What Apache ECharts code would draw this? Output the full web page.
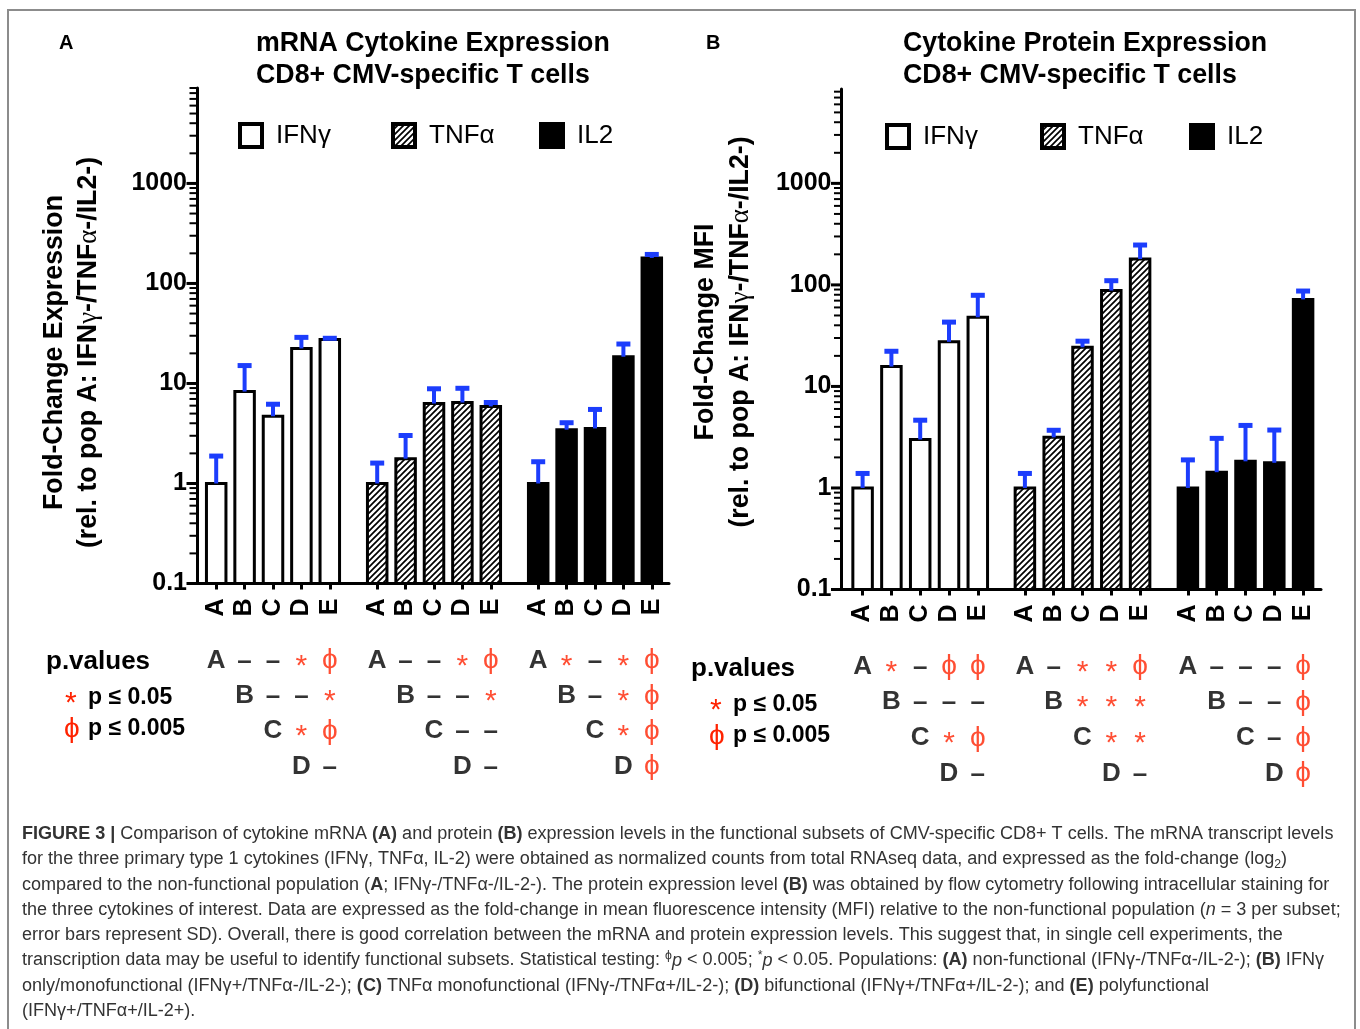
<!DOCTYPE html>
<html><head><meta charset="utf-8">
<script src="https://cdn.jsdelivr.net/npm/echarts@6/dist/echarts.min.js"></script>
<style>html,body{margin:0;padding:0;background:#fff}#c{width:1360px;height:1029px}</style>
</head><body><div id="c"></div>
<script>
// ---------------- DATA ----------------
const subsets = ['A', 'B', 'C', 'D', 'E'];
const cytokines = ['IFNγ', 'TNFα', 'IL2'];
const yTickLabels = ['0.1', '1', '10', '100', '1000'];
const tableRows = ['A', 'B', 'C', 'D'];

// Panel A: mRNA fold-change (mean) and SD
const mrnaIFNg   = [1.0, 8.3, 4.7, 22.4, 27.5];
const mrnaIFNgSD = [0.88, 6.8, 1.5, 6.5, 0.8];
const mrnaTNFa   = [1.0, 1.77, 6.3, 6.45, 5.9];
const mrnaTNFaSD = [0.6, 1.25, 2.55, 2.5, 0.55];
const mrnaIL2    = [1.0, 3.45, 3.55, 18.5, 180];
const mrnaIL2SD  = [0.65, 0.6, 1.95, 6.3, 15];

// Panel B: protein MFI fold-change (mean) and SD
const protIFNg   = [1.0, 15.7, 3.0, 27.5, 48];
const protIFNgSD = [0.39, 6.5, 1.65, 15.5, 31];
const protTNFa   = [1.0, 3.15, 24.3, 88, 180];
const protTNFaSD = [0.39, 0.55, 3.6, 22, 67];
const protIL2    = [1.0, 1.43, 1.83, 1.77, 72];
const protIL2SD  = [0.89, 1.65, 2.3, 1.95, 15];

// p-value tables: row r = subset r compared with the following subsets
const pMrnaIFNg = ['––*ϕ', '––*', '*ϕ', '–'];
const pMrnaTNFa = ['––*ϕ', '––*', '––', '–'];
const pMrnaIL2  = ['*–*ϕ', '–*ϕ', '*ϕ', 'ϕ'];
const pProtIFNg = ['*–ϕϕ', '–––', '*ϕ', '–'];
const pProtTNFa = ['–**ϕ', '***', '**', '–'];
const pProtIL2  = ['–––ϕ', '––ϕ', '–ϕ', 'ϕ'];

const captionLines = [
  [['b','FIGURE 3 |'],['',' Comparison of cytokine mRNA '],['b','(A)'],['',' and protein '],['b','(B)'],['',' expression levels in the functional subsets of CMV-specific CD8+ T cells. The mRNA transcript levels']],
  [['','for the three primary type 1 cytokines (IFNγ, TNFα, IL-2) were obtained as normalized counts from total RNAseq data, and expressed as the fold-change (log'],['sub','2'],['',')']],
  [['','compared to the non-functional population ('],['b','A'],['','; IFNγ-/TNFα-/IL-2-). The protein expression level '],['b','(B)'],['',' was obtained by flow cytometry following intracellular staining for']],
  [['','the three cytokines of interest. Data are expressed as the fold-change in mean fluorescence intensity (MFI) relative to the non-functional population ('],['i','n'],['',' = 3 per subset;']],
  [['','error bars represent SD). Overall, there is good correlation between the mRNA and protein expression levels. This suggest that, in single cell experiments, the']],
  [['','transcription data may be useful to identify functional subsets. Statistical testing: '],['sup','ϕ'],['i','p'],['',' < 0.005; '],['sup','*'],['i','p'],['',' < 0.05. Populations: '],['b','(A)'],['',' non-functional (IFNγ-/TNFα-/IL-2-); '],['b','(B)'],['',' IFNγ']],
  [['','only/monofunctional (IFNγ+/TNFα-/IL-2-); '],['b','(C)'],['',' TNFα monofunctional (IFNγ-/TNFα+/IL-2-); '],['b','(D)'],['',' bifunctional (IFNγ+/TNFα+/IL-2-); and '],['b','(E)'],['',' polyfunctional']],
  [['','(IFNγ+/TNFα+/IL-2+).']]
];

// ---------------- STYLE / LAYOUT ----------------
const FONT = 'Liberation Sans, Arial, Helvetica, sans-serif';
const RED = '#ff2200', BLUE = '#1c3dfc';
const mctx = document.createElement('canvas').getContext('2d');
function tw(text, font) { mctx.font = font; return mctx.measureText(text).width; }
function fitSize(text, weight, target) { return 20 * target / tw(text, weight + ' 20px ' + FONT); }

function makeHatch() {
  const c = document.createElement('canvas'); c.width = 6; c.height = 6;
  const g = c.getContext('2d');
  g.fillStyle = '#fff'; g.fillRect(0, 0, 6, 6);
  g.strokeStyle = '#000'; g.lineWidth = 1.7; g.beginPath();
  g.moveTo(-1, 7); g.lineTo(7, -1);
  g.moveTo(-1, 1); g.lineTo(1, -1);
  g.moveTo(5, 7); g.lineTo(7, 5);
  g.stroke();
  return c;
}
const HATCH = { image: makeHatch(), repeat: 'repeat' };
const FILLS = ['#ffffff', HATCH, '#000000'];

const layoutA = { axisX: 197, axisEnd: 669, top: 88, bottom: 583.5, max: 9000, centers: [273, 434, 595], slot: 28.4,
  tTop: 643, tH: 141, xMargin: 15, legendLeft: [238, 391, 539], legendTop: 122 };
const layoutB = { axisX: 841.5, axisEnd: 1321, top: 89, bottom: 589.5, max: 8500, centers: [920.2, 1082.5, 1245.5], slot: 28.8,
  tTop: 648.5, tH: 143, xMargin: 15, legendLeft: [885, 1040, 1189], legendTop: 123 };

const panels = [
  { L: layoutA, means: [mrnaIFNg, mrnaTNFa, mrnaIL2], sds: [mrnaIFNgSD, mrnaTNFaSD, mrnaIL2SD], tables: [pMrnaIFNg, pMrnaTNFa, pMrnaIL2] },
  { L: layoutB, means: [protIFNg, protTNFa, protIL2], sds: [protIFNgSD, protTNFaSD, protIL2SD], tables: [pProtIFNg, pProtTNFa, pProtIL2] }
];

const grids = [], xAxes = [], yAxes = [], series = [], legends = [], graphics = [];
function addGrid(g) { grids.push(Object.assign({ outerBoundsMode: 'none', containLabel: false }, g)); return grids.length - 1; }

function decLabel(v) {
  const l = Math.log10(v), r = Math.round(l);
  if (Math.abs(l - r) > 1e-6) return '';
  const s = yTickLabels[r + 1];
  return s === undefined ? '' : s;
}

function barRender(fill) {
  return function (params, api) {
    const i = api.value(0), v = api.value(1), e = api.value(2);
    const p = api.coord([i, v]), b = api.coord([i, 0.1]), c = api.coord([i, e]);
    const bw = 19.5, cw = 14;
    return { type: 'group', children: [
      { type: 'rect', shape: { x: p[0] - bw / 2, y: p[1], width: bw, height: b[1] - p[1] }, style: { fill: fill, stroke: '#000', lineWidth: 3 } },
      { type: 'line', shape: { x1: p[0], y1: p[1], x2: p[0], y2: c[1] }, style: { stroke: BLUE, lineWidth: 4 } },
      { type: 'line', shape: { x1: p[0] - cw / 2, y1: c[1], x2: p[0] + cw / 2, y2: c[1] }, style: { stroke: BLUE, lineWidth: 5 } }
    ] };
  };
}

function symLabel(ch, isRowLabel) {
  if (isRowLabel) return { fontFamily: FONT, fontSize: 26, fontWeight: 'bold', color: '#000' };
  if (ch === '*') return { fontFamily: FONT, fontSize: 30, fontWeight: 'normal', color: RED, offset: [0, 6] };
  if (ch === 'ϕ') return { fontFamily: FONT, fontSize: 28, fontWeight: 'normal', color: RED, offset: [0, 0] };
  return { fontFamily: FONT, fontSize: 26, fontWeight: 'bold', color: '#000', offset: [0, 1] };
}

panels.forEach(function (P) {
  const L = P.L;
  // frame grid: y axis (log) + x axis line
  const fg = addGrid({ left: L.axisX, top: L.top, width: L.axisEnd - L.axisX, height: L.bottom - L.top });
  xAxes.push({ gridIndex: fg, type: 'value', min: 0, max: 1, axisLine: { show: true, onZero: false, lineStyle: { color: '#000', width: 3 } },
    axisTick: { show: false }, axisLabel: { show: false }, splitLine: { show: false } });
  yAxes.push({ gridIndex: fg, type: 'log', logBase: 10, min: 0.1, max: L.max,
    axisLine: { show: true, onZero: false, lineStyle: { color: '#000', width: 3 } },
    axisTick: { show: false }, splitLine: { show: false }, minorTick: { show: false },
    axisLabel: { show: true, formatter: decLabel, fontFamily: FONT, fontSize: 25, fontWeight: 'bold', color: '#000', margin: 10 } });
  const ticks = [];
  for (let k = -1; k <= 3; k++) for (let m = 1; m <= 9; m++) { const v = m * Math.pow(10, k); if (v <= L.max * 1.0001) ticks.push([0, v, m === 1 ? 1 : 0]); }
  series.push({ type: 'custom', xAxisIndex: xAxes.length - 1, yAxisIndex: yAxes.length - 1, silent: true, clip: false, z: 3,
    data: ticks,
    renderItem: function (params, api) {
      const pt = api.coord([0, api.value(1)]); const major = api.value(2) === 1;
      const len = major ? 9 : 6;
      return { type: 'line', shape: { x1: pt[0] - len - 1.5, y1: pt[1], x2: pt[0], y2: pt[1] }, style: { stroke: '#000', lineWidth: major ? 3 : 2 } };
    } });

  for (let g = 0; g < 3; g++) {
    const left = L.centers[g] - 2.5 * L.slot, width = 5 * L.slot;
    const gi = addGrid({ left: left, top: L.top, width: width, height: L.bottom - L.top });
    xAxes.push({ gridIndex: gi, type: 'category', data: subsets, axisLine: { show: false },
      axisTick: { show: true, alignWithLabel: true, interval: 0, length: 6, lineStyle: { color: '#000', width: 3 } },
      axisLabel: { interval: 0, rotate: 90, fontFamily: FONT, fontSize: 25, fontWeight: 'bold', color: '#000', margin: L.xMargin },
      splitLine: { show: false } });
    yAxes.push({ gridIndex: gi, type: 'log', logBase: 10, min: 0.1, max: L.max, show: false });
    const means = P.means[g], sds = P.sds[g];
    series.push({ type: 'custom', name: cytokines[g], xAxisIndex: xAxes.length - 1, yAxisIndex: yAxes.length - 1,
      clip: false, z: 2, silent: true, itemStyle: { color: g === 1 ? '#fff' : FILLS[g], borderColor: '#000', borderWidth: 3 },
      dimensions: ['x', 'y', 'err'], encode: { x: 0, y: 1 },
      data: means.map(function (m, i) { return [i, m, m + sds[i]]; }),
      renderItem: barRender(FILLS[g]) });

    // p-value table
    const ti = addGrid({ left: left, top: L.tTop, width: width, height: L.tH });
    xAxes.push({ gridIndex: ti, type: 'category', data: subsets, show: false });
    yAxes.push({ gridIndex: ti, type: 'category', data: tableRows, inverse: true, show: false });
    const items = [];
    P.tables[g].forEach(function (rowStr, r) {
      items.push({ value: [r, r], txt: subsets[r], label: symLabel(subsets[r], true) });
      Array.from(rowStr).forEach(function (ch, j) {
        items.push({ value: [r + 1 + j, r], txt: ch, label: symLabel(ch, false) });
      });
    });
    series.push({ type: 'scatter', xAxisIndex: xAxes.length - 1, yAxisIndex: yAxes.length - 1, silent: true,
      symbolSize: 1, itemStyle: { color: 'rgba(0,0,0,0)' },
      label: { show: true, position: 'inside', formatter: function (p) { return p.data.txt; } },
      data: items });

    legends.push({ left: L.legendLeft[g], top: L.legendTop, padding: 0, itemWidth: 22, itemHeight: 23, selectedMode: false,
      data: [{ name: cytokines[g], icon: 'rect', itemStyle: { color: FILLS[g], borderColor: '#000', borderWidth: 4 } }],
      textStyle: { fontFamily: FONT, fontSize: 26, color: '#000', padding: [0, 0, 0, 9], lineHeight: 23 } });
  }
});

// ---------------- TEXT / GRAPHICS ----------------
function T(x, y, text, size, weight, extra) {
  return Object.assign({ type: 'text', x: x, y: y, silent: true,
    style: Object.assign({ text: text, fill: '#000', fontSize: size, fontWeight: weight || 'normal', fontFamily: FONT,
      align: 'left', verticalAlign: 'middle', textAlign: 'left', textVerticalAlign: 'middle' }, (extra && extra.style) || {}) },
    (extra && extra.el) || {});
}

graphics.push({ type: 'rect', silent: true, shape: { x: 8, y: 10, width: 1347, height: 1040 }, style: { fill: 'none', stroke: '#8c8c8c', lineWidth: 2 } });

const titleSize = fitSize('mRNA Cytokine Expression', 'bold', 354);
graphics.push(T(59, 43, 'A', 20, 'bold'));
graphics.push(T(706, 43, 'B', 20, 'bold'));
graphics.push(T(256, 44, 'mRNA Cytokine Expression', titleSize, 'bold'));
graphics.push(T(256, 76, 'CD8+ CMV-specific T cells', titleSize, 'bold'));
graphics.push(T(903, 44, 'Cytokine Protein Expression', titleSize, 'bold'));
graphics.push(T(903, 76, 'CD8+ CMV-specific T cells', titleSize, 'bold'));

const axSize = fitSize('Fold-Change Expression', 'bold', 315);
const greek = { g: { fontFamily: 'Liberation Serif, serif', fontWeight: 'normal', fontSize: axSize, fill: '#000' } };
function axisName(x1, x2, y, line1) {
  graphics.push(T(x1, y, line1, axSize, 'bold', { el: { rotation: Math.PI / 2 }, style: { align: 'center', textAlign: 'center' } }));
  graphics.push(T(x2, y, '(rel. to pop A: IFN{g|γ}-/TNF{g|α}-/IL2-)', axSize, 'bold',
    { el: { rotation: Math.PI / 2 }, style: { align: 'center', textAlign: 'center', rich: greek } }));
}
axisName(55, 89, 352.5, 'Fold-Change Expression');
axisName(706, 741, 332, 'Fold-Change MFI');

function pLegend(x, y) {
  graphics.push(T(x, y, 'p.values', 26, 'bold'));
  graphics.push(T(x + 19, y + 36 + 6, '*', 30, 'normal', { style: { fill: RED } }));
  graphics.push(T(x + 42, y + 36, 'p ≤ 0.05', 23, 'bold'));
  graphics.push(T(x + 18, y + 67, 'ϕ', 28, 'normal', { style: { fill: RED } }));
  graphics.push(T(x + 42, y + 67, 'p ≤ 0.005', 23, 'bold'));
}
pLegend(46, 662);
pLegend(691, 669);

// caption
function segFont(tag, s) {
  if (tag === 'b') return 'bold ' + s + 'px ' + FONT;
  if (tag === 'i') return 'italic ' + s + 'px ' + FONT;
  if (tag === 'sub' || tag === 'sup') return (s * 0.68) + 'px ' + FONT;
  return s + 'px ' + FONT;
}
function lineWidth(segs, s) { return segs.reduce(function (a, sg) { return a + tw(sg[1], segFont(sg[0], s)); }, 0); }
const capSize = 17 * 1312 / lineWidth(captionLines[0], 17);
const capColor = '#333333';
const capRich = {
  b: { fontWeight: 'bold', fontSize: capSize, fontFamily: FONT, fill: capColor },
  i: { fontStyle: 'italic', fontSize: capSize, fontFamily: FONT, fill: capColor },
  sub: { fontSize: capSize * 0.68, fontFamily: FONT, fill: capColor, verticalAlign: 'bottom', lineHeight: capSize * 1.25 },
  sup: { fontSize: capSize * 0.68, fontFamily: FONT, fill: capColor, verticalAlign: 'top', lineHeight: capSize * 1.25 }
};
const capY = [834, 859.3, 884.6, 909.9, 935.2, 960.5, 985.8, 1011.1];
captionLines.forEach(function (segs, i) {
  const s = segs.map(function (sg) { return sg[0] ? '{' + sg[0] + '|' + sg[1] + '}' : sg[1]; }).join('');
  graphics.push(T(22, capY[i], s, capSize, 'normal', { style: { fill: capColor, rich: capRich } }));
});

const chart = echarts.init(document.getElementById('c'), null, { renderer: 'canvas', width: 1360, height: 1029 });
chart.setOption({
  animation: false,
  backgroundColor: '#fff',
  textStyle: { fontFamily: FONT },
  grid: grids, xAxis: xAxes, yAxis: yAxes, series: series, legend: legends,
  graphic: { elements: graphics }
});
</script></body></html>
